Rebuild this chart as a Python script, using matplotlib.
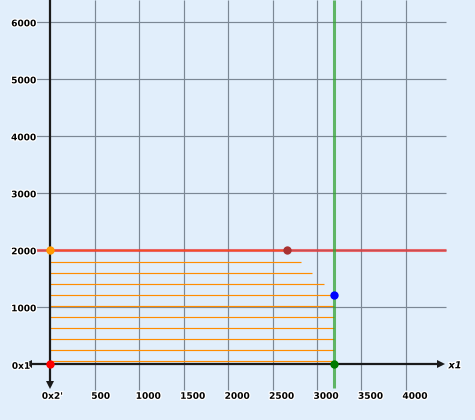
import matplotlib
matplotlib.use("Agg")
import matplotlib.pyplot as plt
import matplotlib.patheffects as pe

# ---- data ----
x_ticks = [500, 1000, 1500, 2000, 2500, 3000, 3500, 4000]
y_ticks = [1000, 2000, 3000, 4000, 5000, 6000]
orange_y = [2000, 1790, 1595, 1405, 1210, 1020, 825, 630, 440, 245, 55]
orange_x_end = [2662, 2815, 2940, 3075, 3190, 3190, 3190, 3190, 3190, 3190, 3190]
red_line_y = 2000
green_line_x = 3190
point_x = [0, 0, 2662, 3190, 3190]
point_y = [0, 2000, 2000, 1210, 0]
point_colors = ["#ff0000", "#ff9900", "#a83232", "#0000ff", "#007a00"]
x_axis_label = "x1"
x_origin_label = "0x1"
y_origin_label = "0x2'"

# ---- figure ----
fig = plt.figure(figsize=(4.75, 4.2), dpi=100)
ax = fig.add_axes([0, 0, 1, 1])
bg = "#e1eefb"
fig.patch.set_facecolor(bg)
ax.set_facecolor(bg)
ax.set_xlim(-566, 4777)
ax.set_ylim(-977, 6391)
ax.axis("off")

grid_c = "#7b8794"
grid_x0, grid_x1 = -172, 4448
grid_y0, grid_y1 = -451, 6391
for yv in y_ticks:
    ax.plot([grid_x0, grid_x1], [yv, yv], color=grid_c, lw=0.85, zorder=1, solid_capstyle="butt")
for xv in x_ticks:
    ax.plot([xv, xv], [grid_y0, grid_y1], color=grid_c, lw=0.85, zorder=1, solid_capstyle="butt")

# orange lines
for yv, xe in zip(orange_y, orange_x_end):
    ax.plot([0, xe], [yv, yv], color="#ff8c00", lw=0.85, zorder=2, solid_capstyle="butt")

# red and green lines
ax.plot([-300, 4448], [red_line_y, red_line_y], color="#ee3333", alpha=0.7, lw=2.2, zorder=3,
        solid_capstyle="butt")
ax.plot([green_line_x, green_line_x], [-420, 6391], color="#33a333", alpha=0.75, lw=2.2, zorder=3,
        solid_capstyle="butt")

# axes
axc = "#1a1a1a"
ax.plot([-255, 4400], [0, 0], color=axc, lw=1.6, zorder=4)
ax.plot([4400], [0], marker=">", color=axc, ms=6, zorder=4, markeredgewidth=0)
ax.plot([-255], [0], marker="<", color=axc, ms=6, zorder=4, markeredgewidth=0)
ax.plot([0, 0], [-370, 6391], color=axc, lw=1.6, zorder=4)
ax.plot([0], [-370], marker="v", color=axc, ms=6, zorder=4, markeredgewidth=0)

# points
for px, py, pc in zip(point_x, point_y, point_colors):
    ax.plot([px], [py], marker="o", color=pc, ms=6, markeredgewidth=0, zorder=6)

# labels
halo = [pe.withStroke(linewidth=1.8, foreground="white")]
fs = 6.5
for yv in y_ticks:
    ax.annotate(str(yv), xy=(0, yv), xytext=(-14.5, -1.5), textcoords="offset pixels",
                ha="right", va="center", fontsize=fs, fontweight="bold", color="black",
                path_effects=halo, zorder=7)
for xv in x_ticks:
    ax.annotate(str(xv), xy=(xv, 0), xytext=(-3.5, -32), textcoords="offset pixels",
                ha="left", va="center", fontsize=fs, fontweight="bold", color="black",
                path_effects=halo, zorder=7)
ax.annotate(y_origin_label, xy=(0, 0), xytext=(-8.5, -32), textcoords="offset pixels",
            ha="left", va="center", fontsize=fs, fontweight="bold", color="black",
            path_effects=halo, zorder=7)
ax.annotate(x_origin_label, xy=(0, 0), xytext=(-38.5, -2), textcoords="offset pixels",
            ha="left", va="center", fontsize=fs, fontweight="bold", color="black",
            path_effects=halo, zorder=7)
ax.annotate(x_axis_label, xy=(4400, 0), xytext=(7, -1), textcoords="offset pixels",
            ha="left", va="center", fontsize=7, fontweight="bold", fontstyle="italic",
            color="black", path_effects=halo, zorder=7)

fig.savefig("out.png", dpi=100, facecolor=bg)
